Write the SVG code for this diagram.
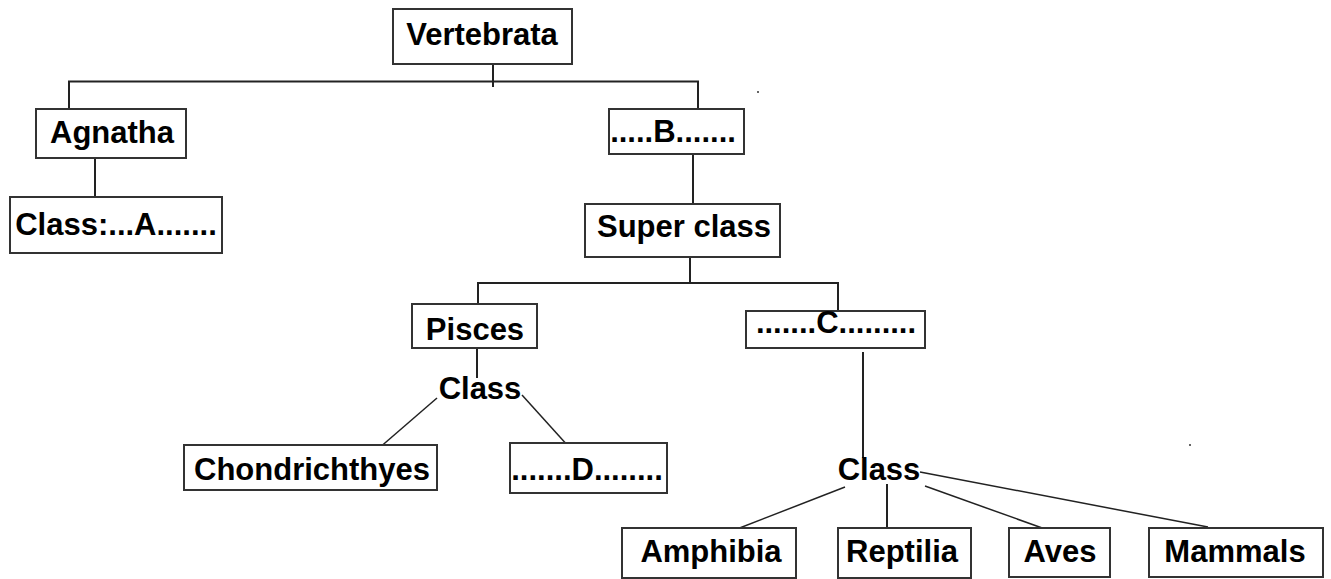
<svg xmlns="http://www.w3.org/2000/svg" width="1331" height="579" viewBox="0 0 1331 579">
<style>
.box{fill:#fff;stroke:#333;stroke-width:2}
.t{font-family:"Liberation Sans",Arial,sans-serif;font-weight:bold;font-size:31px;fill:#000;text-anchor:middle}
.c line,.c polyline{stroke:#222;stroke-width:2;fill:none}
.c .d{stroke-width:1.5}
</style>
<rect width="1331" height="579" fill="#fff"/>
<g class="c" id="connectors">
<line x1="493" y1="64" x2="493" y2="87"/>
<polyline points="69,109 69,81.5 698,81.5 698,109"/>
<line x1="95" y1="158" x2="95" y2="197"/>
<line x1="693" y1="151" x2="693" y2="205"/>
<line x1="690" y1="257" x2="690" y2="283"/>
<polyline points="478,304 478,283 838,283 838,313"/>
<line x1="863" y1="352" x2="863" y2="458"/>
<line x1="477" y1="348" x2="477" y2="378"/>
<line class="d" x1="437" y1="398" x2="378" y2="449"/>
<line class="d" x1="522" y1="395" x2="569" y2="447"/>
<line class="d" x1="845" y1="487" x2="737" y2="529"/>
<line x1="887" y1="484" x2="887" y2="528"/>
<line class="d" x1="925" y1="486" x2="1045" y2="529"/>
<line class="d" x1="920" y1="472" x2="1208" y2="527"/>
</g>
<g id="vertebrata"><rect class="box" x="393" y="9" width="179" height="55"/><text class="t" x="482" y="45">Vertebrata</text></g>
<g id="agnatha"><rect class="box" x="36" y="109" width="150" height="49"/><text class="t" x="112" y="143">Agnatha</text></g>
<g id="classA"><rect class="box" x="10" y="197" width="212" height="56"/><text class="t" x="116" y="235">Class:...A.......</text></g>
<g id="B"><rect class="box" x="609" y="109" width="135" height="45"/><text class="t" x="673" y="142">.....B.......</text></g>
<g id="superclass"><rect class="box" x="585" y="204" width="195" height="53"/><text class="t" x="684" y="237">Super class</text></g>
<g id="pisces"><rect class="box" x="412" y="304" width="125" height="44"/><text class="t" x="475" y="340">Pisces</text></g>
<g id="C"><rect class="box" x="746" y="311" width="179" height="37"/><text class="t" x="836" y="333">.......C.........</text></g>
<g id="class1"><text class="t" x="480" y="399">Class</text></g>
<g id="chondrichthyes"><rect class="box" x="184" y="445" width="253" height="45"/><text class="t" x="312" y="480">Chondrichthyes</text></g>
<g id="D"><rect class="box" x="510" y="443" width="157" height="50"/><text class="t" x="587" y="480">.......D........</text></g>
<g id="class2"><text class="t" x="879" y="480">Class</text></g>
<g id="amphibia"><rect class="box" x="622" y="528" width="174" height="50"/><text class="t" x="711" y="562">Amphibia</text></g>
<g id="reptilia"><rect class="box" x="838" y="528" width="133" height="50"/><text class="t" x="902" y="562">Reptilia</text></g>
<g id="aves"><rect class="box" x="1009" y="528" width="101" height="49"/><text class="t" x="1060" y="562">Aves</text></g>
<g id="mammals"><rect class="box" x="1149" y="528" width="174" height="49"/><text class="t" x="1235" y="562">Mammals</text></g>
<circle cx="758" cy="92" r="1" fill="#333"/>
<circle cx="1190" cy="445" r="1" fill="#333"/>
</svg>
